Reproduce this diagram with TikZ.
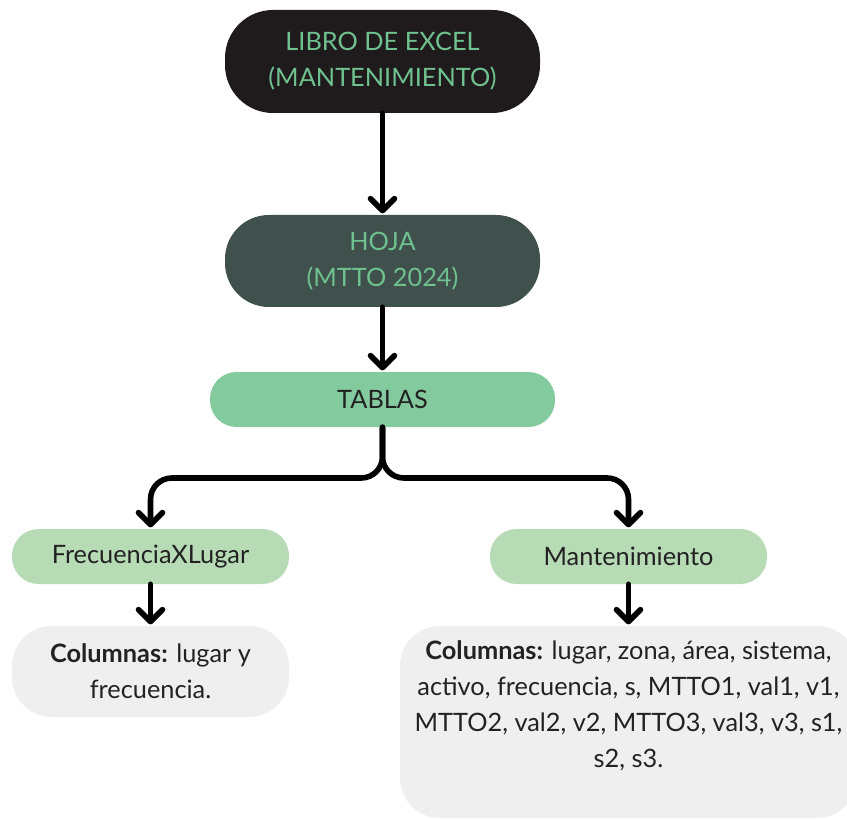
\documentclass[tikz,border=0pt]{standalone}
\usepackage{fontspec}
\setmainfont{Lato}
\usetikzlibrary{arrows.meta}
\definecolor{topfill}{HTML}{1F1B1D}
\definecolor{hojafill}{HTML}{3F504D}
\definecolor{labgreen}{HTML}{6FC18F}
\definecolor{tabfill}{HTML}{83CA9E}
\definecolor{subfill}{HTML}{B7DBB5}
\definecolor{grayfill}{HTML}{EFEFEF}
\definecolor{txtdark}{HTML}{222222}
\begin{document}
\begin{tikzpicture}[x=0.75pt,y=-0.75pt,
  box/.style={inner sep=0pt, align=center, font=\fontsize{19}{27}\selectfont},
  arr/.style={line width=4.2pt, line cap=round, line join=round, -{Straight Barb[length=9pt,width=18pt,line cap=round,line join=round]}},
  shorten >=1pt]
\useasboundingbox (0,0) rectangle (847,820);
\node[box, fill=topfill, text=labgreen, minimum width=236.25pt, minimum height=77.25pt, rounded corners=36pt] (libro) at (382.5,61.5) {LIBRO DE EXCEL\\(MANTENIMIENTO)};
\node[box, fill=hojafill, text=labgreen, minimum width=236.25pt, minimum height=69pt, rounded corners=33pt] (hoja) at (382.5,261) {HOJA\\(MTTO 2024)};
\node[box, fill=tabfill, text=txtdark, minimum width=258.75pt, minimum height=41.25pt, rounded corners=20pt] (tablas) at (382.5,399.5) {TABLAS};
\node[box, fill=subfill, text=txtdark, minimum width=207.75pt, minimum height=41.25pt, rounded corners=20pt] (frec) at (150.5,556.5) {FrecuenciaXLugar};
\node[box, fill=subfill, text=txtdark, minimum width=207.75pt, minimum height=41.25pt, rounded corners=20pt] (mant) at (628.5,556.5) {Mantenimiento};
\node[box, fill=grayfill, text=txtdark, minimum width=207.75pt, minimum height=68.25pt, rounded corners=30pt] (colfrec) at (150.5,671.5) {\textbf{Columnas:} lugar y\\frecuencia.};
\node[fill=grayfill, inner sep=0pt, minimum width=342.75pt, minimum height=144pt, rounded corners=30pt] (colmant) at (628.5,722) {};
\node[box, text=txtdark, anchor=north] (colmanttxt) at (628.5,640) {\textbf{Columnas:} lugar, zona, área, sistema,\\activo, frecuencia, s, MTTO1, val1, v1,\\MTTO2, val2, v2, MTTO3, val3, v3, s1,\\s2, s3.};
\coordinate (branch) at (382.5,478);
\draw[arr] (libro.south) -- (hoja.north);
\draw[arr] (hoja.south) -- (tablas.north);
\draw[arr, rounded corners=16pt] (tablas.south) -- (branch) -| (frec.north);
\draw[arr, rounded corners=16pt] (tablas.south) -- (branch) -| (mant.north);
\draw[arr] (frec.south) -- (colfrec.north);
\draw[arr] (mant.south) -- (colmant.north);
\end{tikzpicture}
\end{document}
